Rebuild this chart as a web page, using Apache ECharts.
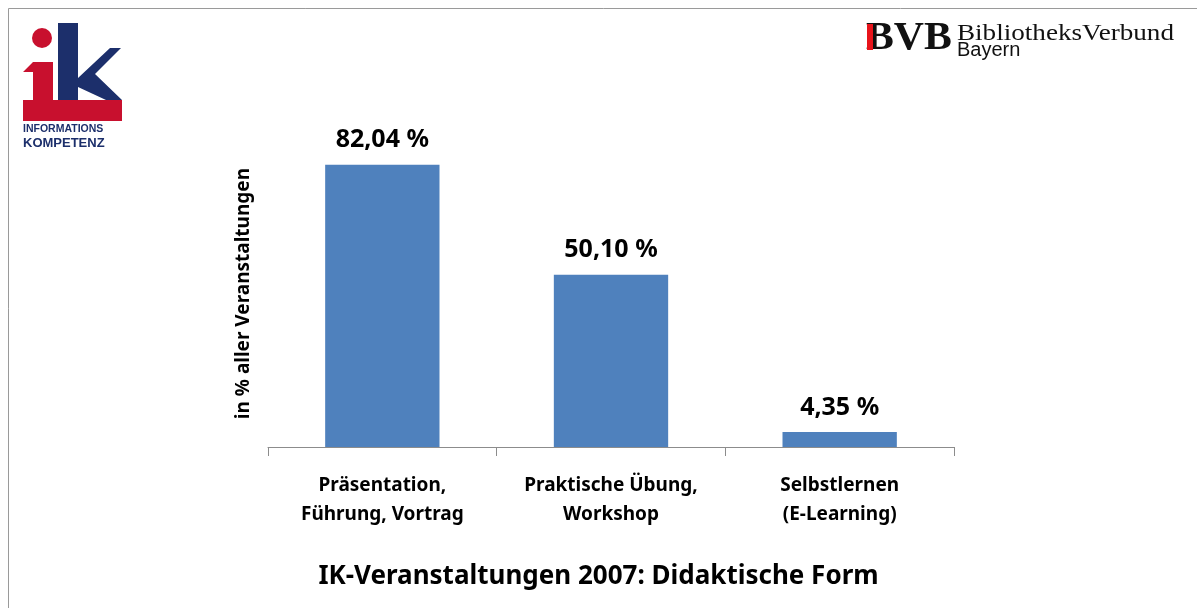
<html>
<head>
<meta charset="utf-8">
<script src="https://cdn.jsdelivr.net/npm/echarts@6/dist/echarts.min.js"></script>
<style>
  html, body { margin: 0; padding: 0; background: #fff; }
  #main { width: 1197px; height: 608px; }
</style>
</head>
<body>
<div id="main"></div>
<script>
var categories = ['Präsentation,\nFührung, Vortrag', 'Praktische Übung,\nWorkshop', 'Selbstlernen\n(E-Learning)'];
var shares = [82.04, 50.10, 4.35];
var chartTitle = 'IK-Veranstaltungen 2007: Didaktische Form';
var axisTitle = 'in % aller Veranstaltungen';

var font = '"Noto Sans", sans-serif';
var navy = '#1c2f6b';
var red = '#c8102e';

var chart = echarts.init(document.getElementById('main'));

chart.setOption({
    animation: false,
    title: {
        text: chartTitle,
        left: 'center',
        top: 559,
        textStyle: { fontFamily: font, fontSize: 26, fontWeight: 'bold', color: '#000' }
    },
    grid: { left: 268, right: 243, top: 103, bottom: 161 },
    xAxis: {
        type: 'category',
        data: categories,
        axisLine: { lineStyle: { color: '#8c8c8c', width: 1 } },
        axisTick: { show: true, length: 9, lineStyle: { color: '#8c8c8c' } },
        axisLabel: {
            margin: 24,
            interval: 0,
            fontFamily: font,
            fontSize: 19,
            fontWeight: 'bold',
            lineHeight: 29,
            color: '#000'
        }
    },
    yAxis: {
        type: 'value',
        min: 0,
        max: 100,
        axisLine: { show: false },
        axisTick: { show: false },
        axisLabel: { show: false },
        splitLine: { show: false }
    },
    series: [{
        type: 'bar',
        data: shares,
        barWidth: '50%',
        itemStyle: { color: '#4f81bd' },
        label: {
            show: true,
            position: 'top',
            distance: 12,
            fontFamily: font,
            fontSize: 25,
            fontWeight: 'bold',
            color: '#000',
            formatter: function (p) {
                return p.value.toFixed(2).replace('.', ',') + ' %';
            }
        }
    }],
    graphic: [
        // frame
        { type: 'rect', shape: { x: 8.5, y: 8.5, width: 1300, height: 700 },
          style: { fill: 'none', stroke: '#9a9a9a', lineWidth: 1 }, silent: true },
        // axis title
        { type: 'text', left: 234, top: 168, rotation: Math.PI / 2,
          style: { text: axisTitle, font: 'bold 19px ' + font, fill: '#000' } },
        // ik logo
        { type: 'circle', shape: { cx: 42, cy: 38, r: 10 }, style: { fill: red } },
        { type: 'polygon', shape: { points: [[23, 72], [33, 62], [53, 62], [53, 100], [122, 100], [122, 121], [23, 121], [23, 100], [33, 100], [33, 72]] },
          style: { fill: red } },
        { type: 'rect', shape: { x: 58, y: 23, width: 20, height: 77 }, style: { fill: navy } },
        { type: 'polygon', shape: { points: [[78, 78], [110, 48], [121, 48], [95, 74], [122, 100], [106, 100], [78, 87]] },
          style: { fill: navy } },
        { type: 'text', left: 23, top: 124, style: { text: 'INFORMATIONS', font: 'bold 10.5px "Liberation Sans", Arial', fill: navy } },
        { type: 'text', left: 23, top: 137, style: { text: 'KOMPETENZ', font: 'bold 13px "Liberation Sans", Arial', fill: navy } },
        // BVB logo
        { type: 'text', x: 866, y: 19, scaleX: 1.07,
          style: { text: 'BVB', font: 'bold 39px "Liberation Serif", serif', fill: '#111' } },
        { type: 'rect', shape: { x: 867, y: 24, width: 6, height: 26 }, style: { fill: '#e8141b' } },
        { type: 'text', x: 957, y: 22, scaleX: 1.13,
          style: { text: 'BibliotheksVerbund', font: '24px "Liberation Serif", serif', fill: '#111' } },
        { type: 'text', x: 957, y: 40,
          style: { text: 'Bayern', font: '20px "Liberation Sans", sans-serif', fill: '#111' } }
    ]
});
</script>
</body>
</html>
